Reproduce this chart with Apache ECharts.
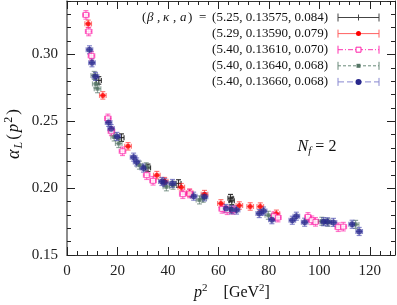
<!DOCTYPE html>
<html><head><meta charset="utf-8">
<script src="https://cdn.jsdelivr.net/npm/echarts@6/dist/echarts.min.js"></script>
<style>html,body{margin:0;padding:0;background:#fff}#c{width:397px;height:305px}</style>
</head><body><div id="c"></div>
<script>
// ---- data ----
const xTicks = [0, 20, 40, 60, 80, 100, 120];
const yTicks = [0.15, 0.20, 0.25, 0.30];
const legendLabels = [
  '(5.25, 0.13575, 0.084)',
  '(5.29, 0.13590, 0.079)',
  '(5.40, 0.13610, 0.070)',
  '(5.40, 0.13640, 0.068)',
  '(5.40, 0.13660, 0.068)'
];
// beta=5.25, kappa=0.13575
const s1P2    = [12.6, 21.6, 32.1, 44.2, 64.8, 65.3];
const s1Alpha = [0.2806, 0.2378, 0.2152, 0.2035, 0.1925, 0.1905];
const s1ErrP2 = 1.0, s1ErrAlpha = 0.0028;
// beta=5.29, kappa=0.13590
const s2P2    = [8.4, 14.2, 24.2, 35.6, 38.7, 45.3, 48.6, 54.5, 61.0, 68.3, 72.6, 76.6, 83.0];
const s2Alpha = [0.3229, 0.2694, 0.2313, 0.2097, 0.2052, 0.2007, 0.1965, 0.1955, 0.1886, 0.1870, 0.1863, 0.1862, 0.1808];
const s2ErrP2 = 1.3, s2ErrAlpha = 0.0028;
// beta=5.40, kappa=0.13610
const s3P2    = [7.5, 8.6, 9.7, 16.2, 17.6, 22.0, 31.6, 34.1, 45.9, 48.6, 61.5, 63.5, 65.8, 82.0, 83.6, 95.5, 97.0, 98.5, 107.5, 109.5];
const s3Alpha = [0.3296, 0.3172, 0.2990, 0.2522, 0.2425, 0.2276, 0.2097, 0.2055, 0.1955, 0.1960, 0.1845, 0.1835, 0.1838, 0.1790, 0.1780, 0.1785, 0.1760, 0.1748, 0.1708, 0.1712];
const s3ErrP2 = 1.3, s3ErrAlpha = 0.0032;
// beta=5.40, kappa=0.13640
const s4P2    = [10.8, 11.4, 12.1, 18.7, 20.5, 28.7, 31.4, 39.4, 42.0, 52.5, 54.0, 65.0, 79.8, 101.0, 103.5, 114.4];
const s4Alpha = [0.2843, 0.2780, 0.2744, 0.2383, 0.2334, 0.2172, 0.2160, 0.2010, 0.2022, 0.1912, 0.1925, 0.1845, 0.1797, 0.1752, 0.1745, 0.1729];
const s4ErrP2 = 1.3, s4ErrAlpha = 0.0030;
// beta=5.40, kappa=0.13660
const s5P2    = [8.9, 9.9, 11.3, 16.5, 17.5, 19.8, 26.4, 27.6, 30.3, 37.6, 38.7, 41.8, 50.2, 54.5, 63.0, 65.2, 67.2, 76.2, 77.9, 81.2, 89.3, 90.9, 94.2, 101.7, 103.2, 105.6, 113.0, 115.8];
const s5Alpha = [0.3035, 0.2938, 0.2836, 0.2492, 0.2445, 0.2387, 0.2232, 0.2196, 0.2150, 0.2050, 0.2042, 0.2035, 0.1940, 0.1935, 0.1848, 0.1838, 0.1836, 0.1810, 0.1829, 0.1764, 0.1760, 0.1790, 0.1745, 0.1749, 0.1748, 0.1744, 0.1730, 0.1676];
const s5ErrP2 = 1.3, s5ErrAlpha = 0.0030;

// ---- styles ----
const FONT = '"Liberation Serif", "DejaVu Serif", serif';
const sets = [
  {p2: s1P2, a: s1Alpha, ex: s1ErrP2, ey: s1ErrAlpha, bar: '#222', barOp: 0.9, sym: 'none', symColor: '#222', size: 0, fill: true, leg: '#444', dash: null},
  {p2: s2P2, a: s2Alpha, ex: s2ErrP2, ey: s2ErrAlpha, bar: '#ff2020', barOp: 0.6, sym: 'circle', symColor: '#ff0000', size: 5, fill: true, leg: '#ff6060', dash: null},
  {p2: s3P2, a: s3Alpha, ex: s3ErrP2, ey: s3ErrAlpha, bar: '#ff20a8', barOp: 0.6, sym: 'rect', symColor: '#ff20a8', size: 5, fill: false, leg: '#ff30b0', dash: [5, 2, 1, 2]},
  {p2: s4P2, a: s4Alpha, ex: s4ErrP2, ey: s4ErrAlpha, bar: '#4f7060', barOp: 0.6, sym: 'rect', symColor: '#557565', size: 4, fill: true, leg: '#6a8a7a', dash: [3, 2]},
  {p2: s5P2, a: s5Alpha, ex: s5ErrP2, ey: s5ErrAlpha, bar: '#3c3ca8', barOp: 0.6, sym: 'circle', symColor: '#28288c', size: 6, fill: true, leg: '#8888d0', dash: [6, 3]}
];

function errRender(color, op) {
  return function (params, api) {
    const x = api.value(0), y = api.value(1), ex = api.value(2), ey = api.value(3);
    const c = api.coord([x, y]);
    const t = api.coord([x, y + ey]), b = api.coord([x, y - ey]);
    const l = api.coord([x - ex, y]), r = api.coord([x + ex, y]);
    const h = 2.5;
    const st = {stroke: color, lineWidth: 1.2, opacity: op};
    const L = (x1, y1, x2, y2) => ({type: 'line', shape: {x1, y1, x2, y2}, style: st});
    return {type: 'group', children: [
      L(c[0], t[1], c[0], b[1]),
      L(c[0] - h, t[1], c[0] + h, t[1]),
      L(c[0] - h, b[1], c[0] + h, b[1]),
      L(l[0], c[1], r[0], c[1]),
      L(l[0], c[1] - h, l[0], c[1] + h),
      L(r[0], c[1] - h, r[0], c[1] + h)
    ]};
  };
}

const series = [];
sets.forEach((s, i) => {
  series.push({
    type: 'custom', xAxisIndex: 0, yAxisIndex: 0, z: 2,
    renderItem: errRender(s.bar, s.barOp),
    encode: {x: 0, y: 1},
    data: s.p2.map((p, k) => [p, s.a[k], s.ex, s.ey]),
    silent: true
  });
  if (s.sym !== 'none') {
    series.push({
      type: 'scatter', xAxisIndex: 0, yAxisIndex: 0, z: 3,
      symbol: s.sym, symbolSize: s.size,
      itemStyle: s.fill ? {color: s.symColor} : {color: '#fff', borderColor: s.symColor, borderWidth: 1},
      data: s.p2.map((p, k) => [p, s.a[k]]),
      silent: true
    });
  }
});

// ---- legend graphics ----
const graphics = [];
const lx1 = 338, lx2 = 379, lxm = (lx1 + lx2) / 2, ltx = 328;
const txtN = {fontFamily: FONT, fontSize: 13, fill: '#111'};
const txtI = {fontFamily: FONT, fontSize: 13, fontStyle: 'italic', fill: '#111'};
sets.forEach((s, i) => {
  const y = 17.5 + 16.1 * i;
  graphics.push({
    type: 'text', x: ltx, y: y,
    style: Object.assign({text: legendLabels[i], align: 'right', verticalAlign: 'middle'}, txtN)
  });
  const ls = {stroke: s.leg, lineWidth: 1, lineDash: s.dash || null};
  graphics.push({type: 'line', shape: {x1: lx1, y1: y, x2: lx2, y2: y}, style: ls});
  graphics.push({type: 'line', shape: {x1: lx1, y1: y - 4, x2: lx1, y2: y + 4}, style: {stroke: s.leg, lineWidth: 1}});
  graphics.push({type: 'line', shape: {x1: lx2, y1: y - 4, x2: lx2, y2: y + 4}, style: {stroke: s.leg, lineWidth: 1}});
  if (s.sym === 'none') {
    graphics.push({type: 'line', shape: {x1: lxm, y1: y - 3, x2: lxm, y2: y + 3}, style: {stroke: s.leg, lineWidth: 1}});
  } else if (s.sym === 'circle') {
    graphics.push({type: 'circle', shape: {cx: lxm, cy: y, r: s.size / 2}, style: {fill: s.symColor}});
  } else {
    const hs = s.size / 2;
    graphics.push({type: 'rect', shape: {x: lxm - hs, y: y - hs, width: s.size, height: s.size},
      style: s.fill ? {fill: s.symColor} : {fill: '#fff', stroke: s.symColor, lineWidth: 1}});
  }
});
// legend header "(β, κ, a) =" placed glyph group by glyph group
[['(', 142, txtN], ['β', 147, txtI], [',', 157, txtN], ['κ', 163, txtI], [',', 173, txtN],
 ['a', 180, txtI], [')', 188, txtN], ['=', 199, txtN]].forEach(g => {
  graphics.push({type: 'text', x: g[1], y: 17.5,
    style: Object.assign({text: g[0], align: 'left', verticalAlign: 'middle'}, g[2])});
});
// axis titles and annotation
graphics.push({
  type: 'text', x: 14, y: 134, rotation: Math.PI / 2,
  style: {
    text: '{a|α}{sub|L}{n|(}{i|p}{sup|2}{n|)}', align: 'center', verticalAlign: 'middle',
    rich: {
      a: {fontFamily: FONT, fontSize: 18, fontStyle: 'italic', fill: '#111', lineHeight: 22},
      i: {fontFamily: FONT, fontSize: 17, fontStyle: 'italic', fill: '#111', lineHeight: 22, padding: [0, 1, 0, 2]},
      n: {fontFamily: FONT, fontSize: 17, fill: '#111', lineHeight: 22},
      sub: {fontFamily: FONT, fontSize: 12, fontStyle: 'italic', fill: '#111', verticalAlign: 'bottom', lineHeight: 12, padding: [0, 2, 0, 1]},
      sup: {fontFamily: FONT, fontSize: 12, fill: '#111', verticalAlign: 'top', lineHeight: 12, padding: [0, 2, 0, 0]}
    }
  }
});
graphics.push({
  type: 'text', x: 232, y: 293,
  style: {
    text: '{i|p}{sup|2}{n|    [GeV}{sup|2}{n|]}', align: 'center', verticalAlign: 'middle',
    rich: {
      i: {fontFamily: FONT, fontSize: 16, fontStyle: 'italic', fill: '#111', lineHeight: 20},
      n: {fontFamily: FONT, fontSize: 16, fill: '#111', lineHeight: 20},
      sup: {fontFamily: FONT, fontSize: 11, fill: '#111', verticalAlign: 'top', lineHeight: 11}
    }
  }
});
graphics.push({
  type: 'text', x: 317, y: 147,
  style: {
    text: '{i|N}{sub|f}{n| = 2}', align: 'center', verticalAlign: 'middle',
    rich: {
      i: {fontFamily: FONT, fontSize: 16, fontStyle: 'italic', fill: '#111', lineHeight: 20},
      n: {fontFamily: FONT, fontSize: 16, fill: '#111', lineHeight: 20},
      sub: {fontFamily: FONT, fontSize: 11, fontStyle: 'italic', fill: '#111', verticalAlign: 'bottom', lineHeight: 11}
    }
  }
});

const XMIN = 0, XMAX = 130, YMIN = 0.15, YMAX = 0.34;
function xAx(pos, major, labels) {
  return {
    type: 'value', gridIndex: 0, position: pos, min: XMIN, max: XMAX,
    interval: major ? xTicks[1] - xTicks[0] : 4,
    axisLine: {show: major, onZero: false, lineStyle: {color: '#333', width: 1}},
    axisTick: {show: true, inside: true, length: major ? 8 : 4, lineStyle: {color: '#222', width: 1}},
    axisLabel: {show: labels, showMaxLabel: false, margin: 9, fontFamily: FONT, fontSize: 15, color: '#222',
      formatter: v => xTicks.includes(v) ? String(v) : ''},
    splitLine: {show: false}
  };
}
function yAx(pos, major, labels) {
  return {
    type: 'value', gridIndex: 0, position: pos, min: YMIN, max: YMAX,
    interval: major ? 0.05 : 0.01,
    axisLine: {show: major, onZero: false, lineStyle: {color: pos === 'left' ? '#666' : '#333', width: pos === 'left' ? 1.5 : 1}},
    axisTick: {show: true, inside: true, length: major ? 8 : 4, lineStyle: {color: '#222', width: 1}},
    axisLabel: {show: labels, showMaxLabel: false, margin: 9, fontFamily: FONT, fontSize: 15, color: '#222',
      formatter: v => yTicks.some(t => Math.abs(t - v) < 1e-6) ? v.toFixed(2) : ''},
    splitLine: {show: false}
  };
}

const chart = echarts.init(document.getElementById('c'), null, {renderer: 'canvas'});
chart.setOption({
  animation: false,
  backgroundColor: '#fff',
  grid: {left: 67, right: 2, top: 1, bottom: 50},
  xAxis: [xAx('bottom', true, true), xAx('bottom', false, false), xAx('top', true, false), xAx('top', false, false)],
  yAxis: [yAx('left', true, true), yAx('left', false, false), yAx('right', true, false), yAx('right', false, false)],
  series: series,
  graphic: graphics
});
</script></body></html>
